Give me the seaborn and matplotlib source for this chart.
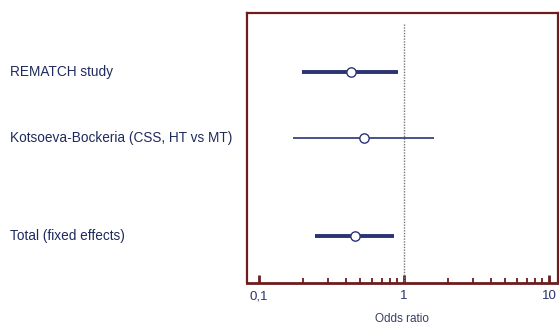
import matplotlib
matplotlib.use("Agg")
import matplotlib.pyplot as plt
import matplotlib.transforms as mtransforms
from matplotlib.ticker import FixedLocator, FixedFormatter, NullFormatter
import seaborn as sns
import pandas as pd

# Studies and odds ratios with 95% CI
studies = ['REMATCH study', 'Kotsoeva-Bockeria (CSS, HT vs MT)', 'Total (fixed effects)']
odds_ratio = [0.43, 0.527, 0.459]
ci_low = [0.197, 0.172, 0.242]
ci_high = [0.914, 1.62, 0.853]
tick_values = [0.1, 1, 10]
tick_labels = ['0,1', '1', '10']

df = pd.DataFrame({'study': studies, 'or': odds_ratio, 'lo': ci_low, 'hi': ci_high})
df['row'] = [0, 1, 2.48]
df['lw'] = [2.8, 1.2, 2.8]

sns.set_style("white")
plt.rcParams['font.family'] = ['Liberation Sans', 'DejaVu Sans']

navy = '#2b3373'
border = '#6e1c1c'

fig = plt.figure(figsize=(5.59, 3.25), dpi=100)
ax = fig.add_axes([0.442, 0.129, 0.556, 0.831])

# confidence intervals
for _, r in df.iterrows():
    ax.hlines(r['row'], r['lo'], r['hi'], color=navy, lw=r['lw'], zorder=2)

sns.scatterplot(data=df, x='or', y='row', ax=ax, color='white', edgecolor=navy,
                linewidth=1.0, s=45, zorder=3, legend=False)

# line of no effect
ax.vlines(1, -0.73, 3.3, color='#777777', lw=1.0, linestyles=(0, (1, 1)), zorder=1)

ax.set_xscale('log')
ax.set_xlim(0.0826, 11.5)
ax.set_ylim(3.2, -0.89)
ax.set_yticks([])
ax.set_xlabel('Odds ratio', fontsize=8.5, color='#3a4060', labelpad=8)
ax.set_ylabel('')

minor = [m * d for d in (0.1, 1) for m in range(2, 10)]
ax.xaxis.set_major_locator(FixedLocator(tick_values))
ax.xaxis.set_major_formatter(FixedFormatter(tick_labels))
ax.xaxis.set_minor_locator(FixedLocator(minor))
ax.xaxis.set_minor_formatter(NullFormatter())
ax.tick_params(axis='x', which='major', direction='in', length=6, width=2,
               color=border, labelcolor=navy, labelsize=9.5, pad=5, bottom=True)
ax.tick_params(axis='x', which='minor', direction='in', length=3.5, width=1.3,
               color=border, bottom=True)

for s in ax.spines.values():
    s.set_color(border)
    s.set_linewidth(1.6)
ax.spines['bottom'].set_linewidth(2)

# study labels on the left
trans = mtransforms.blended_transform_factory(fig.transFigure, ax.transData)
for _, r in df.iterrows():
    ax.text(10 / 559, r['row'], r['study'], transform=trans, ha='left', va='center',
            fontsize=9.8, color='#1f2a5e')

fig.savefig('out.png', dpi=100)
